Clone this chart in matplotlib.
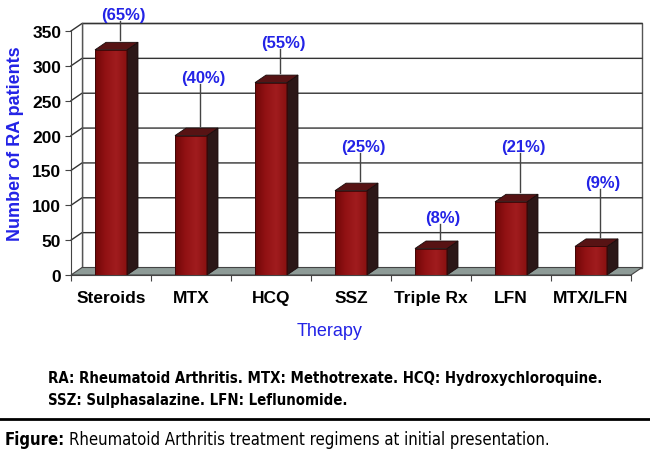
import numpy as np
import matplotlib
matplotlib.use("Agg")
import matplotlib.pyplot as plt
from matplotlib import font_manager
from matplotlib.patches import Polygon, Rectangle

# data
therapies = ["Steroids", "MTX", "HCQ", "SSZ", "Triple Rx", "LFN", "MTX/LFN"]
patients = [323, 200, 276, 121, 38, 105, 41]
percent_labels = ["(65%)", "(40%)", "(55%)", "(25%)", "(8%)", "(21%)", "(9%)"]
# height (in y units) where each percentage label sits
label_heights = [374, 284, 334, 185, 83, 185, 133]
y_ticks = [0, 50, 100, 150, 200, 250, 300, 350]

BLUE = "#2323e6"
FRONT = "#8a0f10"
SIDE = "#2c1717"
TOP = "#571314"
FLOOR = "#8e9b97"
GRID = "#333333"

fig = plt.figure(figsize=(6.5, 4.6), dpi=100)
ax = fig.add_axes([71 / 650, 1 - 276 / 460, 560 / 650, 244 / 460])
ax.set_xlim(0, 7)
ax.set_ylim(0, 350)

# depth offsets of the fake 3d box, in data units
dx = 11 / 80
dy = 7.5 * 350 / 244
ymax = y_ticks[-1]
n = len(therapies)

# back wall + left wall
ax.add_patch(Polygon([(dx, dy), (n + dx, dy), (n + dx, ymax + dy), (dx, ymax + dy)],
                     closed=True, facecolor="white", edgecolor="#555555", lw=1, clip_on=False, zorder=1))
ax.add_patch(Polygon([(0, 0), (dx, dy), (dx, ymax + dy), (0, ymax)],
                     closed=True, facecolor="white", edgecolor="none", clip_on=False, zorder=1))
for v in y_ticks[1:]:
    ax.plot([0, dx, n + dx], [v, v + dy, v + dy], color=GRID, lw=1, clip_on=False, zorder=2)
ax.plot([dx, dx], [dy, ymax + dy], color="#555555", lw=1, clip_on=False, zorder=2)

# floor
ax.add_patch(Polygon([(0, 0), (n, 0), (n + dx, dy), (dx, dy)],
                     closed=True, facecolor=FLOOR, edgecolor="#444444", lw=0.8, clip_on=False, zorder=3))

# bars
grad = np.linspace(0, 1, 64).reshape(1, -1)
bar_cmap = matplotlib.colors.LinearSegmentedColormap.from_list(
    "bar", ["#700808", "#921214", "#a01c1e", "#8a1111"])
w = 0.2
for i, v in enumerate(patients):
    c = i + 0.5
    front = Rectangle((c - w, 0), 2 * w, v, facecolor=FRONT, edgecolor="#3a0808", lw=0.6, zorder=5)
    ax.add_patch(front)
    im = ax.imshow(grad, extent=(c - w, c + w, 0, v), aspect="auto", zorder=5, cmap=bar_cmap)
    im.set_clip_path(front)
    ax.add_patch(Rectangle((c - w, 0), 2 * w, v, facecolor="none", edgecolor="#3a0808", lw=0.6, zorder=6))
    ax.add_patch(Polygon([(c + w, 0), (c + w + dx, dy), (c + w + dx, v + dy), (c + w, v)],
                         closed=True, facecolor=SIDE, edgecolor="#1a0c0c", lw=0.6, zorder=5))
    ax.add_patch(Polygon([(c - w, v), (c + w, v), (c + w + dx, v + dy), (c - w + dx, v + dy)],
                         closed=True, facecolor=TOP, edgecolor="#1a0c0c", lw=0.6, zorder=5))
    # percentage label with leader line
    lx = c + 0.11
    ax.plot([lx, lx], [label_heights[i] - 10, v + dy + 3], color="#444444", lw=1, zorder=4, clip_on=False)
    ax.text(c + 0.15, label_heights[i], percent_labels[i], color=BLUE, fontsize=12,
            fontweight="bold", family="Liberation Sans", ha="center", va="center", zorder=7)

ax.set_xlim(0, 7)
ax.set_ylim(0, 350)

# axes
for s in ["top", "right"]:
    ax.spines[s].set_visible(False)
for s in ["left", "bottom"]:
    ax.spines[s].set_color("#444444")
    ax.spines[s].set_zorder(8)
ax.set_yticks(y_ticks)
ax.set_yticklabels([str(t) for t in y_ticks], fontsize=12.5, fontweight="bold", family="Liberation Sans")
ax.tick_params(axis="y", direction="out", length=4, color="#444444", pad=3)
ax.set_xticks(np.arange(n + 1))
ax.set_xticklabels([])
ax.tick_params(axis="x", which="major", direction="out", length=4, color="#444444")
ax.set_xticks(np.arange(n) + 0.5, minor=True)
ax.set_xticklabels(therapies, minor=True, fontsize=12.5, fontweight="bold", family="Liberation Sans")
ax.tick_params(axis="x", which="minor", length=0, pad=11)

fig.text(16 / 650, 1 - 144 / 460, "Number of RA patients", color=BLUE, fontsize=13, fontweight="bold",
         family="Liberation Sans", rotation=90, ha="center", va="center")
fig.text(330 / 650, 1 - 332 / 460, "Therapy", color=BLUE, fontsize=13, family="Liberation Sans",
         ha="center", va="center")

# footnotes, in a condensed face
cond = font_manager.FontProperties(family="DejaVu Sans", stretch="condensed", weight="bold", size=10.7)
cond_reg = font_manager.FontProperties(family="DejaVu Sans", stretch="condensed", size=12)
cond_fig = font_manager.FontProperties(family="DejaVu Sans", stretch="condensed", weight="bold", size=12)
fig.text(48 / 650, 1 - 379 / 460, "RA: Rheumatoid Arthritis. MTX: Methotrexate. HCQ: Hydroxychloroquine.",
         fontproperties=cond, ha="left", va="center")
fig.text(48 / 650, 1 - 401 / 460, "SSZ: Sulphasalazine. LFN: Leflunomide.",
         fontproperties=cond, ha="left", va="center")
fig.add_artist(plt.Line2D([0, 1], [1 - 420 / 460, 1 - 420 / 460], color="black", lw=2))
t = fig.text(5 / 650, 1 - 440 / 460, "Figure:", fontproperties=cond_fig, ha="left", va="center")
fig.canvas.draw()
bb = t.get_window_extent()
fig.text((bb.x1 + 4) / 650, 1 - 440 / 460, "Rheumatoid Arthritis treatment regimens at initial presentation.",
         fontproperties=cond_reg, ha="left", va="center")

fig.savefig("out.png", dpi=100)
